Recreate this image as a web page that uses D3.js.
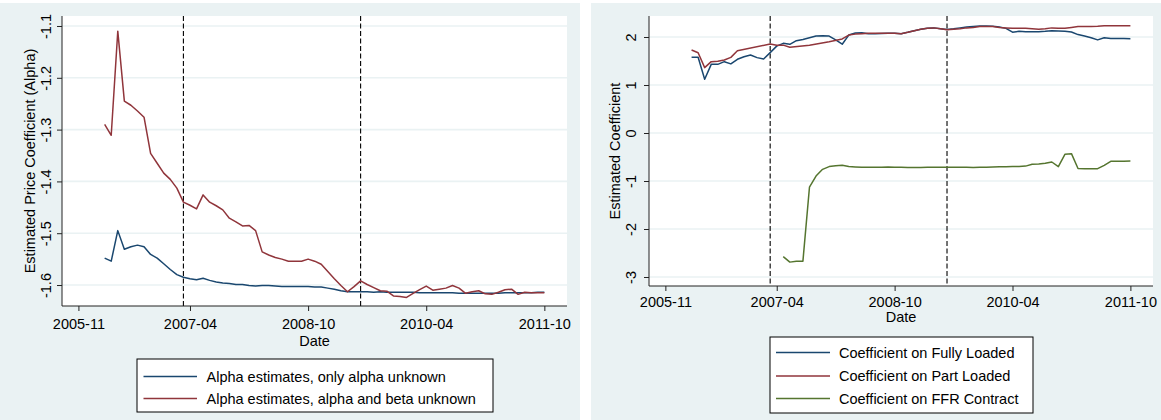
<!DOCTYPE html>
<html>
<head>
<meta charset="utf-8">
<script src="https://cdn.jsdelivr.net/npm/d3@7"></script>
<style>
  html, body { margin: 0; padding: 0; background: #ffffff; }
  svg { display: block; }
  text { font-family: "Liberation Sans", Arial, Helvetica, sans-serif; fill: #000; }
</style>
</head>
<body>
<svg id="chart" width="1161" height="420"></svg>
<script>
// ---- Data ------------------------------------------------------------
const xTickLabels = ["2005-11", "2007-04", "2008-10", "2010-04", "2011-10"];
const eventMonths = ["2007-03", "2009-06"];

const alphaYTicks = [-1.6, -1.5, -1.4, -1.3, -1.2, -1.1];
const coefYTicks = [-3, -2, -1, 0, 1, 2];

// Monthly estimates, 2006-03 .. 2011-10
const alphaStart = "2006-03";
const alphaOnly = [
  -1.548, -1.554, -1.495, -1.531, -1.526, -1.523, -1.526, -1.541, -1.548, -1.559,
  -1.570, -1.580, -1.585, -1.588, -1.590, -1.587, -1.591, -1.594, -1.596, -1.597,
  -1.599, -1.599, -1.601, -1.602, -1.601, -1.601, -1.602, -1.603, -1.603, -1.603,
  -1.603, -1.603, -1.604, -1.604, -1.606, -1.608, -1.611, -1.613, -1.613, -1.613,
  -1.613, -1.614, -1.613, -1.614, -1.614, -1.614, -1.614, -1.614, -1.615, -1.615,
  -1.615, -1.615, -1.615, -1.615, -1.616, -1.616, -1.616, -1.616, -1.616, -1.616,
  -1.616, -1.615, -1.615, -1.615, -1.615, -1.615, -1.614, -1.614
];
const alphaBeta = [
  -1.290, -1.311, -1.110, -1.245, -1.253, -1.264, -1.276, -1.346, -1.365, -1.384,
  -1.396, -1.413, -1.440, -1.446, -1.453, -1.426, -1.440, -1.447, -1.455, -1.471,
  -1.478, -1.486, -1.485, -1.495, -1.536, -1.542, -1.547, -1.550, -1.554, -1.554,
  -1.554, -1.550, -1.554, -1.560, -1.574, -1.588, -1.601, -1.613, -1.603, -1.592,
  -1.599, -1.605, -1.611, -1.612, -1.621, -1.622, -1.624, -1.616, -1.609, -1.602,
  -1.610, -1.608, -1.606, -1.601, -1.606, -1.616, -1.613, -1.611, -1.617, -1.618,
  -1.614, -1.609, -1.608, -1.618, -1.614, -1.615, -1.615, -1.615
];

// Coefficients on load type, monthly 2006-03 .. 2011-10
const fullyStart = "2006-03";
const fullyLoaded = [
  1.577, 1.577, 1.120, 1.430, 1.430, 1.486, 1.440, 1.535, 1.590, 1.625,
  1.570, 1.540, 1.674, 1.810, 1.868, 1.847, 1.923, 1.950, 1.986, 2.020,
  2.025, 2.020, 1.940, 1.850, 2.040, 2.083, 2.090, 2.070, 2.070, 2.075,
  2.077, 2.077, 2.070, 2.097, 2.130, 2.160, 2.180, 2.190, 2.170, 2.155,
  2.170, 2.190, 2.210, 2.220, 2.230, 2.230, 2.225, 2.210, 2.180, 2.100,
  2.118, 2.110, 2.110, 2.110, 2.118, 2.130, 2.125, 2.118, 2.104, 2.050,
  2.020, 1.986, 1.940, 1.986, 1.970, 1.970, 1.970, 1.966
];

// Part loaded: months with reported estimates
const partMonths = [
  "2006-03", "2006-04", "2006-05", "2006-06", "2006-07", "2006-08", "2006-09", "2006-10",
  "2007-03", "2007-04", "2007-05", "2007-06", "2007-09", "2007-12", "2008-02", "2008-03",
  "2008-04", "2008-05", "2008-06", "2008-07", "2008-08", "2008-09", "2008-10", "2008-11",
  "2008-12", "2009-01", "2009-02", "2009-03", "2009-04", "2009-05", "2009-06", "2009-07",
  "2009-08", "2009-09", "2009-10", "2009-11", "2009-12", "2010-01", "2010-02", "2010-03",
  "2010-04", "2010-05", "2010-06", "2010-07", "2010-08", "2010-09", "2010-10", "2010-11",
  "2010-12", "2011-01", "2011-02", "2011-03", "2011-04", "2011-05", "2011-06", "2011-07",
  "2011-08", "2011-09", "2011-10"
];
const partLoaded = [
  1.729, 1.673, 1.361, 1.486, 1.493, 1.521, 1.576, 1.715,
  1.854, 1.826, 1.830, 1.785, 1.830, 1.900, 1.960, 2.040,
  2.060, 2.070, 2.077, 2.077, 2.077, 2.077, 2.077, 2.070,
  2.097, 2.130, 2.160, 2.180, 2.190, 2.170, 2.150, 2.160,
  2.170, 2.190, 2.200, 2.220, 2.220, 2.220, 2.200, 2.190,
  2.180, 2.180, 2.180, 2.170, 2.160, 2.170, 2.190, 2.180,
  2.180, 2.200, 2.220, 2.220, 2.220, 2.225, 2.236, 2.236,
  2.236, 2.236, 2.236
];

// FFR contract, monthly 2007-05 .. 2011-10
const ffrStart = "2007-05";
const ffrContract = [
  -2.577, -2.690, -2.670, -2.670, -1.130, -0.896, -0.757, -0.700, -0.680, -0.674,
  -0.700, -0.708, -0.715, -0.715, -0.712, -0.712, -0.710, -0.712, -0.715, -0.718,
  -0.720, -0.718, -0.715, -0.712, -0.712, -0.712, -0.715, -0.715, -0.715, -0.717,
  -0.716, -0.712, -0.710, -0.705, -0.703, -0.700, -0.698, -0.690, -0.653, -0.645,
  -0.632, -0.604, -0.700, -0.444, -0.430, -0.740, -0.743, -0.743, -0.743, -0.674,
  -0.590, -0.588, -0.588, -0.585
];

// ---- Helpers -----------------------------------------------------------
function monthIndex(s) {
  const [y, m] = s.split("-").map(Number);
  return y * 12 + (m - 1);
}
function monthLabels(start, n) {
  const s = monthIndex(start);
  return d3.range(n).map(i => {
    const k = s + i;
    return Math.floor(k / 12) + "-" + String(k % 12 + 1).padStart(2, "0");
  });
}
function pairs(months, values) {
  return months.map((m, i) => ({ t: monthIndex(m), v: values[i] }));
}

const COLORS = { navy: "#1a476f", maroon: "#90353b", green: "#55752f" };
const BG = "#eaf2f3";
const FONT_SIZE = "14.5px";
const origin = monthIndex("2005-11");
const xDomain = [origin - 2.5, origin + 74.45];

const svg = d3.select("#chart");
svg.append("rect").attr("width", 1161).attr("height", 420).attr("fill", "#ffffff");

// ---- Panel drawing -----------------------------------------------------
function drawPanel(cfg) {
  const g = svg.append("g");
  // panel background
  g.append("rect")
    .attr("x", cfg.bg[0]).attr("y", cfg.bg[1])
    .attr("width", cfg.bg[2]).attr("height", cfg.bg[3])
    .attr("fill", BG);
  // plot region
  g.append("rect")
    .attr("x", cfg.x0).attr("y", cfg.y0)
    .attr("width", cfg.x1 - cfg.x0).attr("height", cfg.y1 - cfg.y0)
    .attr("fill", "#ffffff");

  const x = d3.scaleLinear().domain(xDomain).range([cfg.x0, cfg.x1]);
  const y = d3.scaleLinear().domain(cfg.yDomain).range([cfg.y1, cfg.y0]);

  // horizontal grid
  g.append("g").selectAll("line").data(cfg.yTicks).join("line")
    .attr("x1", cfg.x0).attr("x2", cfg.x1)
    .attr("y1", d => y(d)).attr("y2", d => y(d))
    .attr("stroke", BG).attr("stroke-width", 1.6);

  // event markers
  g.append("g").selectAll("line").data(eventMonths).join("line")
    .attr("x1", d => x(monthIndex(d))).attr("x2", d => x(monthIndex(d)))
    .attr("y1", cfg.y0).attr("y2", cfg.y1)
    .attr("stroke", "#000").attr("stroke-width", 1.1)
    .attr("stroke-dasharray", "5,2.5");

  // series
  const line = d3.line().x(d => x(d.t)).y(d => y(d.v));
  cfg.series.forEach(s => {
    g.append("path").datum(s.data)
      .attr("d", line)
      .attr("fill", "none")
      .attr("stroke", s.color)
      .attr("stroke-width", 1.5)
      .attr("stroke-linejoin", "round");
  });

  // y axis
  const yAxis = d3.axisLeft(y).tickValues(cfg.yTicks).tickSize(5).tickFormat(d => String(d));
  const ya = g.append("g").attr("transform", `translate(${cfg.x0},0)`).call(yAxis);
  ya.select(".domain").attr("stroke", "#222").attr("d", `M0,${cfg.y0}V${cfg.y1}`);
  ya.selectAll(".tick line").attr("stroke", "#222");
  ya.selectAll(".tick text")
    .attr("x", null).attr("dy", null)
    .attr("transform", `translate(${-cfg.yLabelOffset},0) rotate(-90)`)
    .attr("text-anchor", "middle")
    .attr("dominant-baseline", "central")
    .style("font-size", FONT_SIZE)
    .style("font-family", "'Liberation Sans', Arial, sans-serif");

  // x axis
  const xAxis = d3.axisBottom(x)
    .tickValues(xTickLabels.map(monthIndex))
    .tickSize(5)
    .tickFormat((d, i) => xTickLabels[i]);
  const xa = g.append("g").attr("transform", `translate(0,${cfg.y1})`).call(xAxis);
  xa.select(".domain").attr("stroke", "#222").attr("d", `M${cfg.x0},0H${cfg.x1}`);
  xa.selectAll(".tick line").attr("stroke", "#222");
  xa.selectAll(".tick text")
    .attr("y", cfg.xLabelOffset).attr("dy", null)
    .attr("dominant-baseline", "central")
    .style("font-size", FONT_SIZE)
    .style("font-family", "'Liberation Sans', Arial, sans-serif");

  // axis titles
  g.append("text")
    .attr("transform", `translate(${cfg.yTitleX},${(cfg.y0 + cfg.y1) / 2}) rotate(-90)`)
    .attr("text-anchor", "middle").attr("dominant-baseline", "central")
    .style("font-size", FONT_SIZE)
    .text(cfg.yTitle);
  g.append("text")
    .attr("x", (cfg.x0 + cfg.x1) / 2).attr("y", cfg.dateY)
    .attr("text-anchor", "middle").attr("dominant-baseline", "central")
    .style("font-size", FONT_SIZE)
    .text("Date");

  // legend
  const L = cfg.legend;
  const lg = g.append("g");
  lg.append("rect")
    .attr("x", L.x).attr("y", L.y).attr("width", L.w).attr("height", L.h)
    .attr("fill", "#ffffff").attr("stroke", "#000").attr("stroke-width", 1);
  cfg.series.forEach((s, i) => {
    const ry = L.rows[i];
    lg.append("line")
      .attr("x1", L.lineX0).attr("x2", L.lineX1)
      .attr("y1", ry).attr("y2", ry)
      .attr("stroke", s.color).attr("stroke-width", 1.5);
    lg.append("text")
      .attr("x", L.textX).attr("y", ry)
      .attr("dominant-baseline", "central")
      .style("font-size", FONT_SIZE)
      .text(s.label);
  });
}

drawPanel({
  bg: [0, 3, 580, 417],
  x0: 62, x1: 567, y0: 16, y1: 306,
  yDomain: [-1.6405, -1.0807],
  yTicks: alphaYTicks,
  yLabelOffset: 16,
  xLabelOffset: 18,
  yTitleX: 30,
  yTitle: "Estimated Price Coefficient (Alpha)",
  dateY: 341,
  series: [
    { label: "Alpha estimates, only alpha unknown", color: COLORS.navy,
      data: pairs(monthLabels(alphaStart, alphaOnly.length), alphaOnly) },
    { label: "Alpha estimates, alpha and beta unknown", color: COLORS.maroon,
      data: pairs(monthLabels(alphaStart, alphaBeta.length), alphaBeta) }
  ],
  legend: { x: 137, y: 359, w: 356, h: 53, rows: [376.6, 398.5],
            lineX0: 143.5, lineX1: 197, textX: 206.5 }
});

drawPanel({
  bg: [591, 3, 570, 417],
  x0: 649, x1: 1153, y0: 16, y1: 286,
  yDomain: [-3.1875, 2.4375],
  yTicks: coefYTicks,
  yLabelOffset: 18,
  xLabelOffset: 16,
  yTitleX: 615,
  yTitle: "Estimated Coefficient",
  dateY: 317,
  series: [
    { label: "Coefficient on Fully Loaded", color: COLORS.navy,
      data: pairs(monthLabels(fullyStart, fullyLoaded.length), fullyLoaded) },
    { label: "Coefficient on Part Loaded", color: COLORS.maroon,
      data: pairs(partMonths, partLoaded) },
    { label: "Coefficient on FFR Contract", color: COLORS.green,
      data: pairs(monthLabels(ffrStart, ffrContract.length), ffrContract) }
  ],
  legend: { x: 770, y: 337, w: 263, h: 76, rows: [352.6, 376, 398.5],
            lineX0: 776, lineX1: 830, textX: 839 }
});
</script>
</body>
</html>
